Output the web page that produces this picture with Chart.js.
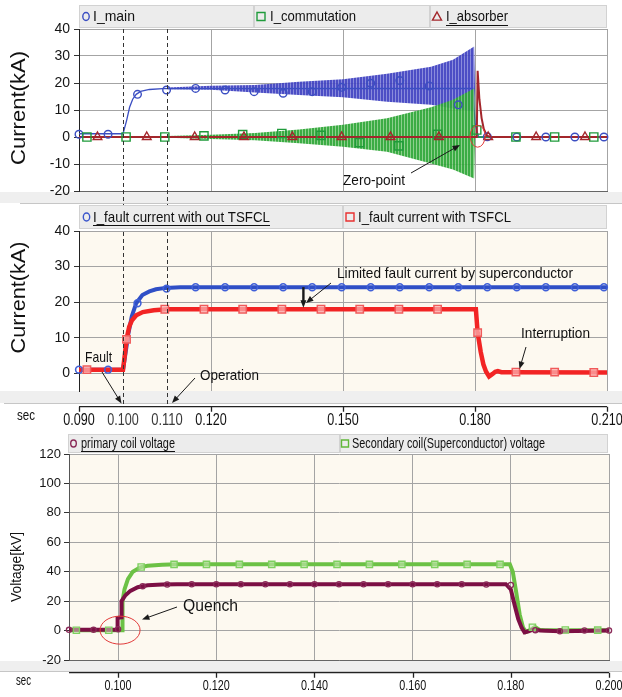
<!DOCTYPE html>
<html>
<head>
<meta charset="utf-8">
<title>TSFCL fault current simulation</title>
<script src="https://cdn.jsdelivr.net/npm/chart.js@4.4.1/dist/chart.umd.min.js"></script>
<style>
  html, body { margin: 0; padding: 0; background: #fff; }
  #fig { position: relative; width: 622px; height: 697px; overflow: hidden; }
  #fig canvas { position: absolute; left: 0; display: block; }
</style>
</head>
<body>
<div id="fig">
  <canvas id="c1" width="622" height="204" style="top:0"></canvas>
  <canvas id="c2" width="622" height="226" style="top:204px"></canvas>
  <canvas id="c3" width="622" height="267" style="top:430px"></canvas>
</div>
<script>
// ---- panel 1 : I_main / I_commutation / I_absorber (kA vs sec) ----
const P1_MAIN_T = [0.0900, 0.1000, 0.1008, 0.1015, 0.1022, 0.1030, 0.1040, 0.1060, 0.1090, 0.1795, 0.1800, 0.1808, 0.2100];
const P1_MAIN_V = [1.2, 1.2, 6.0, 11.0, 14.0, 15.8, 16.9, 17.6, 17.9, 18.0, 5.0, 0.0, 0.0];
const P1_ENV_T = [0.1100, 0.1200, 0.1300, 0.1400, 0.1500, 0.1600, 0.1700, 0.1750, 0.1798, 0.1800];
const P1_MAIN_UP = [18.3, 19.0, 19.3, 20.5, 21.4, 23.4, 26.0, 28.6, 33.5, 18.0];
const P1_MAIN_LO = [17.7, 17.5, 16.5, 15.6, 14.7, 13.1, 11.9, 10.6, 9.4, 18.0];
const P1_COMM_UP = [0.4, 0.8, 1.5, 2.8, 4.5, 6.9, 11.0, 13.8, 18.0, 0.0];
const P1_COMM_LO = [-0.3, -0.7, -1.2, -2.3, -3.6, -5.5, -9.8, -12.0, -15.4, 0.0];
const P1_COMM_T = [0.0900, 0.2100];
const P1_COMM_V = [0.0, 0.0];
const P1_ABS_T = [0.0900, 0.1804, 0.1806, 0.1810, 0.1815, 0.1820, 0.1827, 0.1835, 0.2100];
const P1_ABS_V = [0.0, 0.0, 24.5, 14.0, 7.0, 3.0, 0.5, 0.0, 0.0];
const P1_MAIN_MK_T = [0.0900, 0.0966, 0.1033, 0.1099, 0.1165, 0.1232, 0.1298, 0.1364, 0.1430, 0.1497, 0.1563, 0.1629, 0.1696, 0.1762, 0.1828, 0.1895, 0.1961, 0.2027, 0.2093];
const P1_MAIN_MK_V = [1.0, 1.0, 15.8, 17.4, 18.0, 17.4, 16.8, 16.2, 16.8, 18.4, 19.9, 20.9, 18.9, 11.9, 0.1, 0.0, 0.0, 0.0, 0.0];
const P1_COMM_MK_T = [0.0918, 0.1007, 0.1095, 0.1184, 0.1272, 0.1361, 0.1450, 0.1538, 0.1627, 0.1715, 0.1804, 0.1893, 0.1981, 0.2070];
const P1_COMM_MK_V = [0.0, 0.0, 0.0, 0.4, 0.9, 1.3, 0.6, -2.1, -3.3, 1.0, 2.6, 0.0, 0.0, 0.0];
const P1_ABS_MK_T = [0.0942, 0.1054, 0.1163, 0.1275, 0.1385, 0.1497, 0.1608, 0.1718, 0.1830, 0.1939, 0.2050];
const P1_ABS_MK_V = [0, 0, 0, 0, 0, 0, 0, 0, 0, 0, 0];
const P1_Y_TICKS = [-20, -10, 0, 10, 20, 30, 40];

// ---- panel 2 : fault current with / without TSFCL ----
const P2_NO_T = [0.0900, 0.1000, 0.1005, 0.1012, 0.1020, 0.1030, 0.1044, 0.1060, 0.1075, 0.1097, 0.1130, 0.2100];
const P2_NO_V = [1.0, 1.0, 5.0, 11.0, 16.0, 19.7, 22.0, 23.0, 23.6, 24.0, 24.2, 24.2];
const P2_WITH_T = [0.0900, 0.1000, 0.1004, 0.1008, 0.1014, 0.1020, 0.1030, 0.1045, 0.1070, 0.1100, 0.1802, 0.1806, 0.1813, 0.1819, 0.1825, 0.1832, 0.1840, 0.1846, 0.1852, 0.1860, 0.1880, 0.2100];
const P2_WITH_V = [1.0, 1.0, 5.0, 9.5, 13.0, 14.8, 16.3, 17.2, 17.7, 18.0, 18.0, 11.4, 6.0, 2.5, 0.5, -0.9, -0.2, 0.4, 0.6, 0.3, 0.3, 0.2];
const P2_NO_MK_T = P1_MAIN_MK_T;
const P2_NO_MK_V = [1.0, 1.0, 19.7, 23.8, 24.2, 24.2, 24.2, 24.2, 24.2, 24.2, 24.2, 24.2, 24.2, 24.2, 24.2, 24.2, 24.2, 24.2, 24.2];
const P2_WITH_MK_T = [0.0918, 0.1008, 0.1095, 0.1184, 0.1272, 0.1361, 0.1450, 0.1538, 0.1627, 0.1715, 0.1806, 0.1893, 0.1981, 0.2070];
const P2_WITH_MK_V = [1.0, 9.5, 18.0, 18.0, 18.0, 18.0, 18.0, 18.0, 18.0, 18.0, 11.4, 0.3, 0.3, 0.2];
const P2_Y_TICKS = [0, 10, 20, 30, 40];

const P12_X_GRID = [0.09, 0.12, 0.15, 0.18, 0.21];
const P2_X_LABELS = [0.09, 0.10, 0.11, 0.12, 0.15, 0.18, 0.21];
const EVENT_T = [0.100, 0.110];   // fault / operation instants (dashed lines)

// ---- panel 3 : coil voltages (kV) ----
const P3_PRI_T = [0.0900, 0.0998, 0.0999, 0.1006, 0.1007, 0.1015, 0.1025, 0.1040, 0.1060, 0.1090, 0.1120, 0.1790, 0.1800, 0.1808, 0.1815, 0.1822, 0.1828, 0.1836, 0.1846, 0.1860, 0.1900, 0.2000];
const P3_PRI_V = [0.5, 0.5, 8.5, 9.0, 20.0, 24.0, 27.0, 29.5, 30.8, 31.3, 31.5, 31.5, 28.0, 17.0, 8.0, 2.0, -1.2, -0.5, 0.8, 0.0, -0.4, 0.0];
const P3_SEC_T = [0.0900, 0.1008, 0.1009, 0.1013, 0.1020, 0.1030, 0.1045, 0.1060, 0.1090, 0.1120, 0.1798, 0.1804, 0.1811, 0.1818, 0.1825, 0.1831, 0.1840, 0.1849, 0.1858, 0.1870, 0.2000];
const P3_SEC_V = [0.2, 0.2, 20.0, 28.0, 35.0, 40.0, 43.0, 44.0, 44.7, 45.0, 45.0, 40.0, 26.0, 11.0, 2.0, -0.9, 0.5, 2.5, 0.6, 0.3, 0.3];
const P3_PRI_MK_T = [0.090, 0.095, 0.100, 0.105, 0.110, 0.115, 0.120, 0.125, 0.130, 0.135, 0.140, 0.145, 0.150, 0.155, 0.160, 0.165, 0.170, 0.175, 0.180, 0.185, 0.190, 0.195, 0.200];
const P3_PRI_MK_V = [0.5, 0.5, 0.9, 30.2, 31.3, 31.5, 31.5, 31.5, 31.5, 31.5, 31.5, 31.5, 31.5, 31.5, 31.5, 31.5, 31.5, 31.3, 31.0, 0.3, -0.5, 0.0, 0.0];
const P3_SEC_MK_T = [0.0915, 0.0981, 0.1047, 0.1114, 0.1180, 0.1247, 0.1313, 0.1379, 0.1446, 0.1512, 0.1578, 0.1645, 0.1711, 0.1778, 0.1844, 0.1911, 0.1977];
const P3_SEC_MK_V = [0.2, 0.2, 43.2, 45.0, 45.0, 45.0, 45.0, 45.0, 45.0, 45.0, 45.0, 45.0, 45.0, 45.0, 2.3, 0.4, 0.3];
const P3_Y_TICKS = [-20, 0, 20, 40, 60, 80, 100, 120];
const P3_X_GRID = [0.10, 0.12, 0.14, 0.16, 0.18, 0.20];
const P3_X_LABELS = [0.10, 0.12, 0.14, 0.16, 0.18, 0.20];

const SANS = '"Liberation Sans", Arial, sans-serif';
const CREAM = '#fdf9f0';
const GRID = '#a4a4a4';

const pts = (t, v) => t.map((x, i) => ({ x, y: v[i] }));

function lineDs(t, v, color, width, order, extra) {
  return Object.assign({
    data: pts(t, v), borderColor: color, borderWidth: width,
    pointRadius: 0, fill: false, tension: 0, order,
  }, extra || {});
}

function markDs(t, v, color, style, radius, order, fillCol, bw) {
  return {
    data: pts(t, v), showLine: false, pointStyle: style, pointRadius: radius,
    pointBorderColor: color, pointBackgroundColor: fillCol || 'rgba(0,0,0,0)',
    pointBorderWidth: bw || 1.4, order, clip: 8,
  };
}

function stripes(c1, c2) {
  const p = document.createElement('canvas');
  p.width = 3; p.height = 1;
  const g = p.getContext('2d');
  g.fillStyle = c1; g.fillRect(0, 0, 2, 1);
  g.fillStyle = c2; g.fillRect(2, 0, 1, 1);
  return g.createPattern(p, 'repeat');
}

// text, optionally squeezed horizontally to a target width
function say(ctx, s, x, y, o) {
  ctx.save();
  ctx.font = `${o.weight || 'normal'} ${o.size}px ${o.family || SANS}`;
  const nat = ctx.measureText(s).width;
  const sx = o.w ? o.w / nat : (o.sx || 1);
  const w = nat * sx;
  let left = x;
  if (o.align === 'center') left = x - w / 2;
  else if (o.align === 'right') left = x - w;
  ctx.translate(left, y);
  ctx.scale(sx, 1);
  ctx.fillStyle = o.color || '#111';
  ctx.textBaseline = 'middle';
  ctx.textAlign = 'left';
  ctx.fillText(s, 0, 0);
  ctx.restore();
  if (o.underline) {
    ctx.save();
    ctx.strokeStyle = o.color || '#111';
    ctx.lineWidth = 1;
    ctx.beginPath();
    ctx.moveTo(left, Math.round(y + o.size * 0.5) + 0.5);
    ctx.lineTo(left + w, Math.round(y + o.size * 0.5) + 0.5);
    ctx.stroke();
    ctx.restore();
  }
}

function vtitle(ctx, s, cx, cy, size, len) {
  ctx.save();
  ctx.translate(cx, cy);
  ctx.rotate(-Math.PI / 2);
  say(ctx, s, 0, 0, { size, w: len, align: 'center', color: '#111' });
  ctx.restore();
}

function arrow(ctx, x1, y1, x2, y2, lw, hl) {
  const a = Math.atan2(y2 - y1, x2 - x1);
  ctx.save();
  ctx.strokeStyle = '#1a1a1a';
  ctx.fillStyle = '#1a1a1a';
  ctx.lineWidth = lw;
  ctx.beginPath();
  ctx.moveTo(x1, y1);
  ctx.lineTo(x2 - Math.cos(a) * hl * 0.7, y2 - Math.sin(a) * hl * 0.7);
  ctx.stroke();
  ctx.beginPath();
  ctx.moveTo(x2, y2);
  ctx.lineTo(x2 - hl * Math.cos(a - 0.38), y2 - hl * Math.sin(a - 0.38));
  ctx.lineTo(x2 - hl * Math.cos(a + 0.38), y2 - hl * Math.sin(a + 0.38));
  ctx.closePath();
  ctx.fill();
  ctx.restore();
}

function mark(ctx, style, x, y, color, r) {
  ctx.save();
  ctx.strokeStyle = color;
  ctx.lineWidth = 1.4;
  ctx.beginPath();
  if (style === 'circle') ctx.ellipse(x, y, r * 0.8, r, 0, 0, Math.PI * 2);
  else if (style === 'rect') ctx.rect(x - r, y - r, 2 * r, 2 * r);
  else { ctx.moveTo(x, y - r); ctx.lineTo(x + r, y + r * 0.8); ctx.lineTo(x - r, y + r * 0.8); ctx.closePath(); }
  ctx.stroke();
  ctx.restore();
}

function legendBar(ctx, y0, h, cells) {
  cells.forEach((c) => {
    ctx.fillStyle = '#ececec';
    ctx.fillRect(c.x0, y0, c.x1 - c.x0, h);
    ctx.strokeStyle = '#d2d2d2';
    ctx.lineWidth = 1;
    ctx.strokeRect(c.x0 + 0.5, y0 + 0.5, c.x1 - c.x0 - 1, h - 1);
    mark(ctx, c.style, c.mx, y0 + h / 2, c.color, c.mr || 4);
    say(ctx, c.text, c.tx, y0 + h / 2 + 0.5, { size: c.size, w: c.w, underline: c.u });
  });
}

function dashedV(ctx, x, y1, y2) {
  ctx.save();
  ctx.strokeStyle = '#333';
  ctx.lineWidth = 1;
  ctx.setLineDash([4, 3]);
  ctx.beginPath();
  ctx.moveTo(Math.round(x) + 0.5, y1);
  ctx.lineTo(Math.round(x) + 0.5, y2);
  ctx.stroke();
  ctx.restore();
}

function xAxisBelow(ctx, xs, y, x0v, x1v, tickVals, labels, digits, labelY, size, w, dim) {
  const a = xs.getPixelForValue(x0v), b = xs.getPixelForValue(x1v);
  ctx.save();
  ctx.strokeStyle = '#222';
  ctx.lineWidth = 1.3;
  ctx.beginPath();
  ctx.moveTo(a, y); ctx.lineTo(b, y);
  tickVals.forEach((v) => {
    const px = Math.round(xs.getPixelForValue(v)) + 0.5;
    ctx.moveTo(px, y); ctx.lineTo(px, y + 5);
  });
  ctx.stroke();
  ctx.restore();
  labels.forEach((v) => {
    const faint = dim && dim.includes(v);
    say(ctx, v.toFixed(digits), xs.getPixelForValue(v), labelY,
      { size, w, align: 'center', color: faint ? '#3a3a3a' : '#111' });
  });
}

function baseOptions(o) {
  return {
    responsive: false,
    animation: false,
    events: [],
    devicePixelRatio: 1,
    layout: { padding: { top: o.top, right: o.right, left: 0, bottom: 0 } },
    plugins: { legend: { display: false }, tooltip: { enabled: false } },
    scales: {
      x: {
        type: 'linear', min: o.xMin, max: o.xMax,
        afterBuildTicks: (s) => { s.ticks = o.xGrid.map((v) => ({ value: v })); },
        afterFit: (s) => { s.height = o.xH; },
        ticks: { display: false },
        grid: { color: GRID, drawTicks: false },
        border: { display: o.xBorder, color: '#666' },
      },
      y: {
        type: 'linear', min: o.yMin, max: o.yMax,
        afterBuildTicks: (s) => { s.ticks = o.yTicks.map((v) => ({ value: v })); },
        afterFit: (s) => { s.width = o.left; },
        ticks: { font: o.tickFont, color: '#151515', padding: o.tickPad },
        grid: { color: GRID, tickColor: '#333', tickLength: 5 },
        border: { color: o.axisColor, width: 1 },
      },
    },
  };
}

// white page, gray strip under the plot, plot background - all before the axes
function backdrop(plotBg, band) {
  return {
    id: 'backdrop',
    beforeDraw(c) {
      const ctx = c.ctx, a = c.chartArea;
      ctx.save();
      ctx.fillStyle = '#fff';
      ctx.fillRect(0, 0, c.width, c.height);
      ctx.fillStyle = '#efefef';
      ctx.fillRect(0, band.y1, c.width, band.y2 - band.y1);
      ctx.strokeStyle = '#c6c6c6';
      ctx.lineWidth = 1;
      ctx.beginPath();
      ctx.moveTo(band.x0, band.y2 + 0.5);
      ctx.lineTo(c.width, band.y2 + 0.5);
      ctx.stroke();
      ctx.fillStyle = plotBg;
      ctx.fillRect(a.left, a.top, a.right - a.left, a.bottom - a.top);
      ctx.restore();
    },
  };
}

// ---------------- panel 1 ----------------
const BLUE1 = '#3b4ec2', GREEN1 = '#1f9b3b', RED1 = '#a3262b';

new Chart(document.getElementById('c1'), {
  type: 'line',
  data: {
    datasets: [
      lineDs(P1_ENV_T, P1_MAIN_UP, 'rgba(0,0,0,0)', 0, 10),
      lineDs(P1_ENV_T, P1_MAIN_LO, 'rgba(0,0,0,0)', 0, 10,
        { fill: '-1', backgroundColor: stripes('rgba(66,68,194,0.95)', 'rgba(118,120,214,0.85)') }),
      lineDs(P1_MAIN_T, P1_MAIN_V, BLUE1, 1.3, 9),
      lineDs(P1_ENV_T, P1_COMM_UP, 'rgba(0,0,0,0)', 0, 8),
      lineDs(P1_ENV_T, P1_COMM_LO, 'rgba(0,0,0,0)', 0, 8,
        { fill: '-1', backgroundColor: stripes('rgba(48,168,58,0.95)', 'rgba(120,200,120,0.85)') }),
      lineDs(P1_COMM_T, P1_COMM_V, GREEN1, 1.3, 7),
      lineDs(P1_ABS_T, P1_ABS_V, RED1, 2, 6),
      markDs(P1_MAIN_MK_T, P1_MAIN_MK_V, BLUE1, 'circle', 3.8, 3),
      markDs(P1_COMM_MK_T, P1_COMM_MK_V, GREEN1, 'rect', 5.8, 2),
      markDs(P1_ABS_MK_T, P1_ABS_MK_V, RED1, 'triangle', 5, 1),
    ],
  },
  options: baseOptions({
    top: 29, right: 15, left: 79, xH: 13,
    xMin: 0.09, xMax: 0.21, xGrid: P12_X_GRID,
    yMin: -20, yMax: 40, yTicks: P1_Y_TICKS,
    tickFont: { family: SANS, size: 14 }, tickPad: 4,
    axisColor: '#222', xBorder: true,
  }),
  plugins: [backdrop('#ffffff', { y1: 192, y2: 203, x0: 20 }), {
    id: 'decor1',
    afterDraw(c) {
      const ctx = c.ctx, xs = c.scales.x, ys = c.scales.y;
      EVENT_T.forEach((t) => dashedV(ctx, xs.getPixelForValue(t), c.chartArea.top, c.height));
      legendBar(ctx, 5, 23, [
        { x0: 79, x1: 254, style: 'circle', mx: 86, color: BLUE1, text: 'I_main', tx: 93, w: 42, size: 15 },
        { x0: 254, x1: 430, style: 'rect', mx: 261, mr: 4, color: GREEN1, text: 'I_commutation', tx: 270, w: 86, size: 15 },
        { x0: 430, x1: 607, style: 'tri', mx: 437, mr: 4.5, color: RED1, text: 'I_absorber', tx: 446, w: 62, size: 15, u: true },
      ]);
      vtitle(ctx, 'Current(kA)', 19, 108, 21, 114);
      // zero-point marker
      ctx.save();
      ctx.strokeStyle = '#e23a3a';
      ctx.lineWidth = 1;
      ctx.beginPath();
      ctx.ellipse(xs.getPixelForValue(0.1806), ys.getPixelForValue(0.3), 7.5, 11, 0, 0, Math.PI * 2);
      ctx.stroke();
      ctx.restore();
      say(ctx, 'Zero-point', 343, 181, { size: 15, w: 62 });
      arrow(ctx, 411, 173, 460, 145, 1, 8);
    },
  }],
});

// ---------------- panel 2 ----------------
const BLUE2 = '#2f4fc6', RED2 = '#f22424';

new Chart(document.getElementById('c2'), {
  type: 'line',
  data: {
    datasets: [
      lineDs(P2_NO_T, P2_NO_V, BLUE2, 4, 6),
      lineDs(P2_WITH_T, P2_WITH_V, RED2, 4.5, 5),
      markDs(P2_NO_MK_T, P2_NO_MK_V, '#4060d8', 'circle', 3.4, 2, 'rgba(0,0,0,0)', 1.6),
      markDs(P2_WITH_MK_T, P2_WITH_MK_V, '#f05a5a', 'rect', 5.2, 1, 'rgba(255,210,210,0.6)', 1.5),
    ],
  },
  options: baseOptions({
    top: 27, right: 15, left: 79, xH: 39,
    xMin: 0.09, xMax: 0.21, xGrid: P12_X_GRID,
    yMin: -5, yMax: 40, yTicks: P2_Y_TICKS,
    tickFont: { family: SANS, size: 14 }, tickPad: 4,
    axisColor: '#222', xBorder: false,
  }),
  plugins: [backdrop(CREAM, { y1: 187, y2: 199, x0: 4 }), {
    id: 'decor2',
    afterDraw(c) {
      const ctx = c.ctx, xs = c.scales.x, ys = c.scales.y;
      xAxisBelow(ctx, xs, 202.7, 0.09, 0.21, P12_X_GRID, P2_X_LABELS, 3, 217, 16, 31.5, [0.10, 0.11]);
      say(ctx, 'sec', 26, 212, { size: 14, w: 18, align: 'center' });
      EVENT_T.forEach((t) => dashedV(ctx, xs.getPixelForValue(t), 0, 202));
      legendBar(ctx, 1, 24, [
        { x0: 79, x1: 343, style: 'circle', mx: 86.5, color: '#3a55cc', text: 'I_fault current with out TSFCL', tx: 93, w: 177, size: 15, u: true },
        { x0: 343, x1: 607, style: 'rect', mx: 350, mr: 4, color: '#e83030', text: 'I_fault current with TSFCL', tx: 358, w: 153, size: 15 },
      ]);
      vtitle(ctx, 'Current(kA)', 19, 93.5, 21, 112);
      say(ctx, 'Limited fault current by superconductor', 337, 70, { size: 15, w: 236 });
      arrow(ctx, 331, 79, 306, 99, 1, 8);
      const vx = xs.getPixelForValue(0.141);
      arrow(ctx, vx, ys.getPixelForValue(24.2), vx, ys.getPixelForValue(18.4), 2.4, 8);
      say(ctx, 'Fault', 85, 154, { size: 15, w: 27 });
      arrow(ctx, 102, 168, 121.5, 199.5, 1, 8);
      say(ctx, 'Operation', 200, 172, { size: 15, w: 59 });
      arrow(ctx, 195, 174, 172, 199, 1, 8);
      say(ctx, 'Interruption', 521, 130, { size: 15, w: 69 });
      arrow(ctx, 526, 143, 519.5, 165, 1, 8);
    },
  }],
});

// ---------------- panel 3 ----------------
const MAROON = '#7c0f44', GREEN3 = '#6cc145';

new Chart(document.getElementById('c3'), {
  type: 'line',
  data: {
    datasets: [
      lineDs(P3_SEC_T, P3_SEC_V, GREEN3, 4, 6),
      lineDs(P3_PRI_T, P3_PRI_V, MAROON, 4, 5),
      markDs(P3_SEC_MK_T, P3_SEC_MK_V, '#7fd060', 'rect', 4.4, 2, 'rgba(215,240,200,0.5)', 1.4),
      markDs(P3_PRI_MK_T, P3_PRI_MK_V, '#8a2a58', 'circle', 2.6, 1, 'rgba(0,0,0,0)', 1.3),
    ],
  },
  options: baseOptions({
    top: 24, right: 13, left: 69, xH: 37,
    xMin: 0.09, xMax: 0.20, xGrid: P3_X_GRID,
    yMin: -20, yMax: 120, yTicks: P3_Y_TICKS,
    tickFont: { family: SANS, size: 13 }, tickPad: 3,
    axisColor: '#555', xBorder: true,
  }),
  plugins: [backdrop(CREAM, { y1: 231, y2: 241, x0: 0 }), {
    id: 'decor3',
    afterDraw(c) {
      const ctx = c.ctx, xs = c.scales.x, ys = c.scales.y;
      xAxisBelow(ctx, xs, 242.7, 0.09, 0.20, P3_X_GRID, P3_X_LABELS, 3, 256, 15, 27, null);
      say(ctx, 'sec', 23.5, 251, { size: 14, w: 15, align: 'center' });
      legendBar(ctx, 4, 19, [
        { x0: 68, x1: 340, style: 'circle', mx: 73.5, mr: 3.5, color: '#8a2a58', text: 'primary coil voltage', tx: 81, w: 94, size: 14, u: true },
        { x0: 340, x1: 608, style: 'rect', mx: 345, mr: 3.5, color: '#62b83a', text: 'Secondary coil(Superconductor) voltage', tx: 352, w: 193, size: 14 },
      ]);
      vtitle(ctx, 'Voltage[kV]', 17.5, 137, 14, 70);
      ctx.save();
      ctx.strokeStyle = '#e23a3a';
      ctx.lineWidth = 1;
      ctx.beginPath();
      ctx.ellipse(xs.getPixelForValue(0.1004), ys.getPixelForValue(0.3), 20, 14, 0, 0, Math.PI * 2);
      ctx.stroke();
      ctx.restore();
      say(ctx, 'Quench', 183, 177, { size: 16, w: 55 });
      arrow(ctx, 177, 177, 142, 189.5, 1, 8);
    },
  }],
});
</script>
</body>
</html>
